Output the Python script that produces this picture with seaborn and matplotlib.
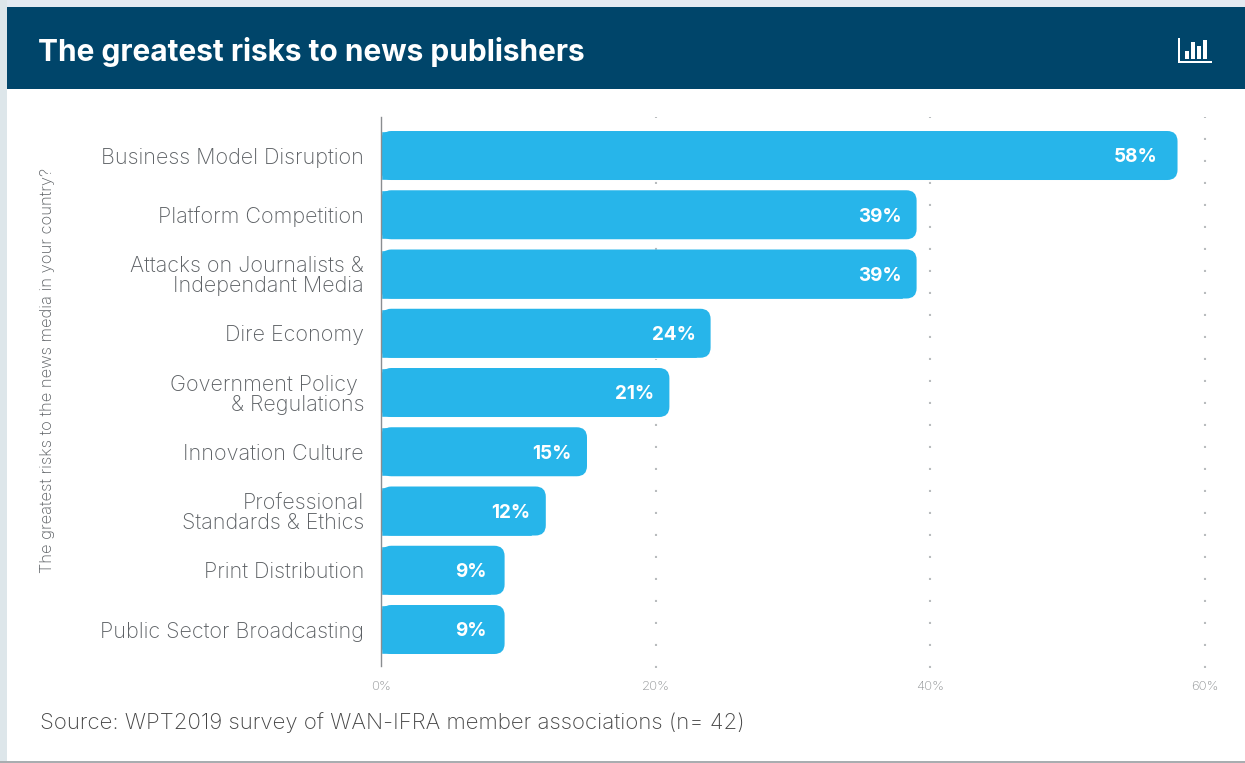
import matplotlib
matplotlib.use('Agg')
import matplotlib.pyplot as plt
from matplotlib.patches import FancyBboxPatch, Rectangle
import pandas as pd
import seaborn as sns

categories = ['Business Model Disruption', 'Platform Competition',
              'Attacks on Journalists &\nIndependant Media', 'Dire Economy',
              'Government Policy \n& Regulations', 'Innovation Culture',
              'Professional\nStandards & Ethics', 'Print Distribution',
              'Public Sector Broadcasting']
values = [58, 39, 39, 24, 21, 15, 12, 9, 9]
x_ticks = [0, 20, 40, 60]
title = 'The greatest risks to news publishers'
y_title = 'The greatest risks to the news media in your country?'
source = 'Source: WPT2019 survey of WAN-IFRA member associations (n= 42)'

W, H = 1245, 763
NAVY = '#00456a'
BLUE = '#27b5ea'
TEXT = '#5c6064'

sns.set_theme(style='white')
plt.rcParams['font.family'] = ['Inter', 'DejaVu Sans']

fig = plt.figure(figsize=(W / 100, H / 100), dpi=100, facecolor='white')

# page furniture, drawn in pixel coords
bg = fig.add_axes([0, 0, 1, 1], zorder=0)
bg.set_xlim(0, W)
bg.set_ylim(H, 0)
bg.axis('off')
bg.add_patch(Rectangle((0, 0), W, 7, color='#e4eaf1', lw=0))
bg.add_patch(Rectangle((0, 0), 7, H, color='#dde6ea', lw=0))
bg.add_patch(Rectangle((0, 761), W, 2, color='#a9adb0', lw=0))
bg.add_patch(Rectangle((7, 7), W - 7, 82, color=NAVY, lw=0))
bg.text(38, 52, title, color='white', fontsize=21.5, fontweight='bold', va='center')
bg.text(40, 723, source, color='#444444', fontsize=16, fontweight='light', va='center')

# chart icon in the header
bg.add_patch(Rectangle((1178, 38), 1.5, 25, color='white', lw=0))
bg.add_patch(Rectangle((1178, 61), 34, 1.5, color='white', lw=0))
for ix, itop in [(1185, 51), (1191, 42), (1197, 46), (1203, 40)]:
    bg.add_patch(Rectangle((ix, itop), 4, 59 - itop, color='white', lw=0))

ax = fig.add_axes([381 / W, 1 - 666 / H, 824 / W, 549 / H], zorder=1)
ax.patch.set_alpha(0)

df = pd.DataFrame({'risk': categories, 'share': values})
sns.barplot(data=df, x='share', y='risk', color=BLUE, saturation=1,
            width=49 / 59.25, ax=ax, zorder=3)

ax.set_xlim(0, 60)
ax.set_ylim(8.616, -0.65)

# swap the square bar ends for rounded ones, left side stays square
for bar in ax.patches[:len(values)]:
    x0, y0, w, h = bar.get_x(), bar.get_y(), bar.get_width(), bar.get_height()
    ax.add_patch(FancyBboxPatch((x0, y0), w, h, boxstyle='round,pad=0,rounding_size=0.75',
                                mutation_aspect=(1 / 59.25) / (60 / 824),
                                fc=BLUE, ec='none', zorder=3))
    bar.set_width(w - 1)

# labels don't sit at one fixed distance from the bar end in the original
label_nudge = {58: -14.4, 9: -13}
for i, v in enumerate(values):
    ax.annotate(f'{v}%', xy=(v, i), xytext=(label_nudge.get(v, -10.8), -1.3),
                textcoords='offset points', ha='right', va='center', color='white',
                fontsize=13.6, fontweight='bold', zorder=4)

ax.set_xticks(x_ticks)
ax.set_xticklabels([f'{t}%' for t in x_ticks], fontsize=9.5, color='#8f9294', fontweight='light')
ax.tick_params(axis='x', length=0, pad=11)
ax.tick_params(axis='y', length=0, pad=12.2, labelsize=15.5, labelcolor=TEXT)
for lab in ax.get_yticklabels():
    lab.set_linespacing(1.0)
    lab.set_fontweight('light')
ax.set_xlabel('')
ax.set_ylabel(y_title, fontsize=11.9, color=TEXT, fontweight='light')
ax.yaxis.set_label_coords((55 - 381) / 824, 0.539)

for t in x_ticks[1:]:
    ax.axvline(t, ymin=-6 / 549, ymax=1, color='#b9bcbe', lw=1.5,
               ls=(8.64, (1, 9.56)), zorder=1, clip_on=False)

sns.despine(ax=ax, top=True, right=True, bottom=True)
ax.spines['left'].set_color('#8a8d90')
ax.spines['left'].set_linewidth(1.0)
ax.spines['left'].set_zorder(5)

fig.savefig('out.png', dpi=100)
